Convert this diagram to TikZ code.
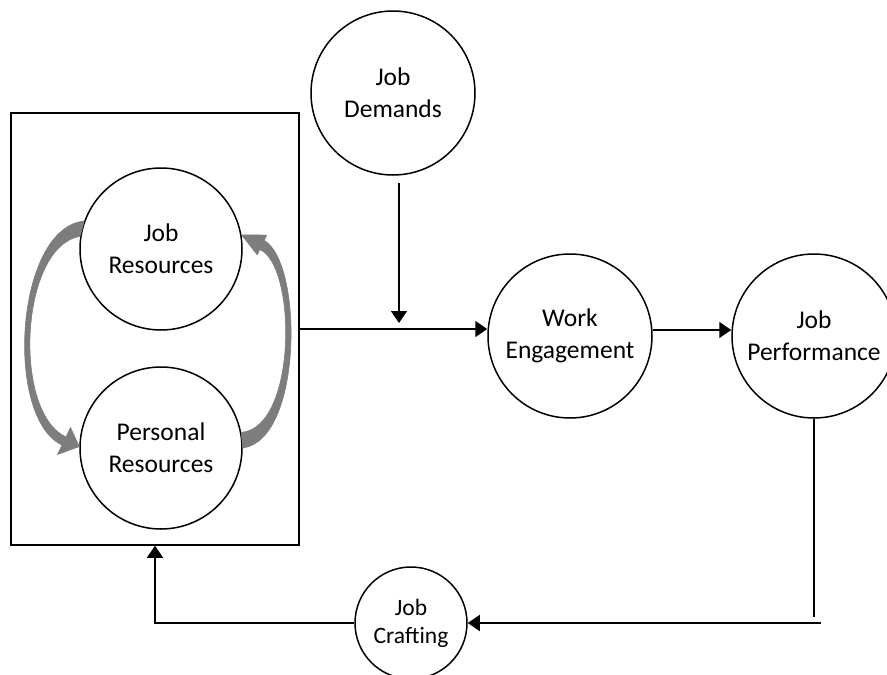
\documentclass[tikz,border=0pt]{standalone}
\usepackage{fontspec}
\setmainfont{Carlito}
\usetikzlibrary{arrows.meta}
\definecolor{garc}{RGB}{125,125,125}
\begin{document}
\begin{tikzpicture}[x=1pt,y=-1pt,
  circ/.style={circle,draw,line width=1.5pt,minimum size=164pt,inner sep=0pt,align=center,font=\fontsize{25.5}{32}\selectfont},
  arr/.style={line width=1.5pt,-{Triangle[length=12pt,width=16pt]}},
  plain/.style={line width=1.5pt},
  garr/.style={fill=garc,draw=garc,line width=0.6pt,line join=round}]
\useasboundingbox (0,0) rectangle (887,675);
\node[draw,line width=1.5pt,minimum width=288pt,minimum height=432pt,inner sep=0pt] (box) at (155,329) {};
\node[circ] (jd) at (393,93) {Job\\Demands};
\node[circ,minimum size=162pt] (jr) at (161,249) {Job\\Resources};
\node[circ,minimum size=162pt] (pr) at (161,448) {Personal\\Resources};
\node[circ] (we) at (570,336) {Work\\Engagement};
\node[circ] (jp) at (814,336) {Job\\Performance};
\node[circ,minimum size=112pt,font=\fontsize{23.5}{28}\selectfont] (jc) at (411,623) {Job\\Crafting};
\coordinate (jdtip) at (399,323);
\coordinate (c1) at (814,617);
\coordinate (c2) at (821,623);
\draw[arr] ([xshift=6pt,yshift=-7pt]jd.south) -- (jdtip);
\draw[arr] (box.east) -- (box.east -| we.west);
\draw[arr] ([yshift=6pt]we.east) -- ([yshift=6pt]jp.west);
\draw[plain] (jp.south) -- (c1);
\draw[arr] (c2) -- (jc.east);
\draw[arr] (jc.west) -| (box.south);
% gray tapered arrows between the two resource circles
\path[garr] (jr.160) .. controls (15,228) and (4,418) .. (62,445)
  -- (57.5,454.5) -- (pr.179) -- (70.5,427.5) -- (66,437)
  .. controls (12,412) and (20,246) .. (jr.171) -- cycle;
\path[garr] (pr.0) .. controls (303,440) and (303,262) .. (264.2,240.5)
  -- (266.7,235.1) -- (jr.10) -- (257.3,254.9) -- (259.8,249.5)
  .. controls (297,266) and (297,428) .. (pr.11) -- cycle;
\end{tikzpicture}
\end{document}
